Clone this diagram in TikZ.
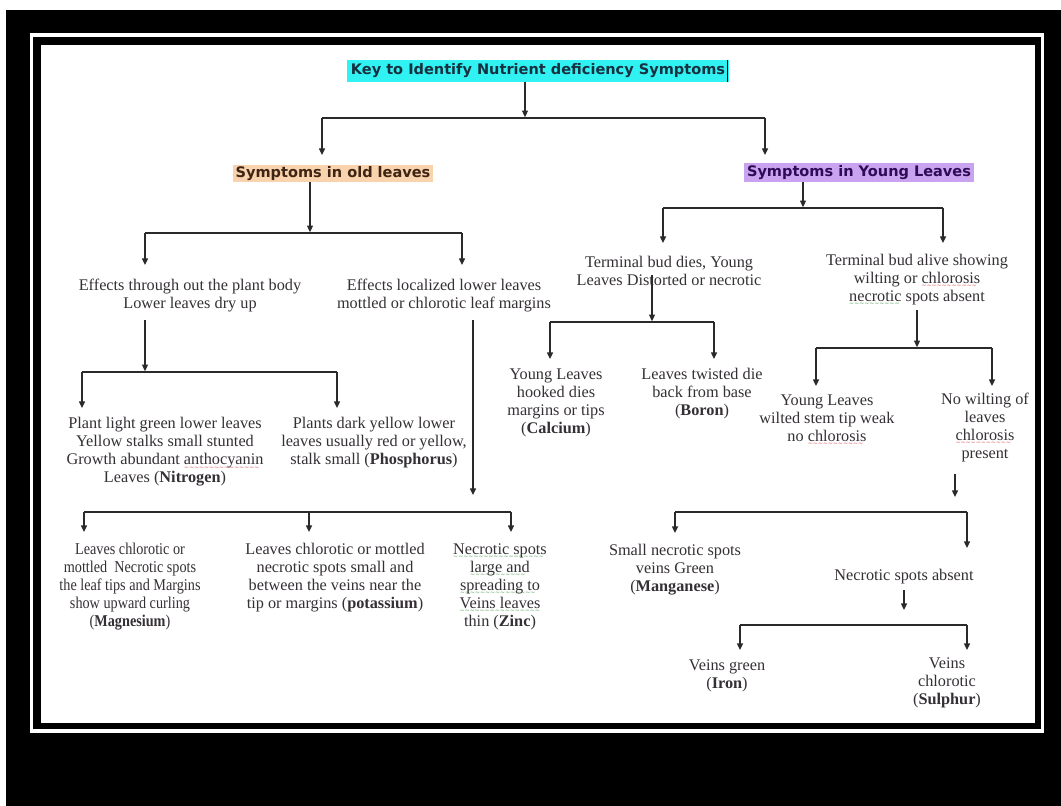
\documentclass[tikz,border=0pt]{standalone}
\usepackage{fontspec}
\setmainfont{Liberation Serif}
\newfontfamily\hdrfont{DejaVu Sans}
\newfontfamily\condfont{Liberation Serif}[FakeStretch=0.86]
\usetikzlibrary{arrows.meta}
\definecolor{txt}{HTML}{353035}
\definecolor{linec}{HTML}{2A2A2A}
\definecolor{cyanhl}{HTML}{30F2F2}
\definecolor{peach}{HTML}{F9D2AE}
\definecolor{lav}{HTML}{C9A2F0}
\definecolor{titlec}{HTML}{173040}
\definecolor{brownc}{HTML}{3E2412}
\definecolor{purplec}{HTML}{2E0C55}
\definecolor{wavered}{HTML}{D85050}
\definecolor{wavegreen}{HTML}{50A050}
\newcommand\wavy[2]{\setbox0\hbox{#2}\rlap{\raisebox{-3.2pt}[0pt][0pt]{\textcolor{#1}{\hbox to \wd0{\leaders\hbox{\fontsize{4.5}{5}\hdrfont\char"223C}\hfill}}}}\box0\relax}
\newcommand\redwave[1]{\wavy{wavered}{#1}}
\newcommand\greenwave[1]{\wavy{wavegreen}{#1}}
\tikzset{
  ln/.style={draw=linec, line width=1pt},
  arr/.style={ln, -{Triangle[length=5pt,width=4.5pt]}},
  body/.style={align=center, text=txt, font=\fontsize{12.2}{13.5}\selectfont, inner sep=0pt},
  hl/.style={font=\hdrfont\bfseries\fontsize{10.9}{13}\selectfont, inner xsep=2pt, inner ysep=0pt, text height=8.3pt, text depth=2.4pt}
}
\begin{document}
\begin{tikzpicture}[x=0.75pt, y=-0.75pt]
\useasboundingbox (0,0) rectangle (1061,806);
% frame
\fill[white] (0,0) rectangle (1061,806);
\fill[black] (6,10) rectangle (1061,806);
\draw[white, line width=2.6pt] (31.5,35) rectangle (1042.5,731);
\fill[white] (41,45) rectangle (1035,723);

% header nodes
\node[hl, fill=cyanhl, text=titlec, minimum height=16.5pt, inner xsep=3pt] (T) at (538,71) {Key to Identify Nutrient deficiency Symptoms};
\draw[black, line width=0.8pt] ([xshift=-1.2pt]T.north east) -- ([xshift=-1.2pt]T.south east);
\node[hl, fill=peach, text=brownc, minimum height=12.75pt] (O) at (333,173.5) {Symptoms in old leaves};
\node[hl, fill=lav, text=purplec, minimum height=14.25pt] (Y) at (859,172.5) {Symptoms in Young Leaves};

% body nodes
\node[body] (E1) at (190,296) {Effects through out the plant body\\Lower leaves dry up};
\node[body] (E2) at (444,296) {Effects localized lower leaves\\mottled or chlorotic leaf margins};
\node[body] (B1) at (669,270.5) {Terminal bud dies, Young\\Leaves Distorted or necrotic};
\node[body] (B2) at (917,279.5) {Terminal bud alive showing\\wilting or \redwave{chlorosis}\\\greenwave{necrotic} spots absent};
\node[body] (N) at (165,452) {Plant light green lower leaves\\Yellow stalks small stunted\\Growth abundant \redwave{anthocyanin}\\Leaves (\textbf{Nitrogen})};
\node[body] (P) at (374,443) {Plants dark yellow lower\\leaves usually red or yellow,\\stalk small (\textbf{Phosphorus})};
\node[body] (Ca) at (556,402.5) {Young Leaves\\hooked dies\\margins or tips\\(\textbf{Calcium})};
\node[body] (Bo) at (702,393.5) {Leaves twisted die\\back from base\\(\textbf{Boron})};
\node[body] (W) at (827,418) {Young Leaves\\wilted stem tip weak\\no \redwave{chlorosis}};
\node[body] (NW) at (985,427.5) {No wilting of\\leaves\\\redwave{chlorosis}\\present};
\node[body, font=\condfont\fontsize{12.4}{13.5}\selectfont] (Mg) at (130,587) {Leaves chlorotic or\\mottled~ Necrotic spots\\the leaf tips and Margins\\show upward curling\\(\textbf{Magnesium})};
\node[body] (K) at (335,578) {Leaves chlorotic or mottled\\necrotic spots small and\\between the veins near the\\tip or margins (\textbf{potassium})};
\node[body] (Zn) at (500,587) {\greenwave{Necrotic spots}\\\greenwave{large and}\\\greenwave{spreading to}\\\greenwave{Veins leaves}\\thin (\textbf{Zinc})};
\node[body] (Mn) at (675,570) {Small necrotic spots\\veins Green\\(\textbf{Manganese})};
\node[body] (NSA) at (904,577) {Necrotic spots absent};
\node[body] (Fe) at (727,676) {Veins green\\(\textbf{Iron})};
\node[body] (S) at (947,683) {Veins\\chlorotic\\(\textbf{Sulphur})};

% junction coordinates
\coordinate (j0) at (525,118);
\coordinate (j0l) at (322,118);
\coordinate (j0r) at (765,118);
\coordinate (tO) at (322,155);
\coordinate (tY) at (765,155);
\coordinate (j1) at (310,233);
\coordinate (j1l) at (145,233);
\coordinate (j1r) at (462,233);
\coordinate (tE1) at (145,265);
\coordinate (tE2) at (462,265);
\coordinate (j2) at (803,208);
\coordinate (j2l) at (663,208);
\coordinate (j2r) at (943,208);
\coordinate (tB1) at (663,243);
\coordinate (tB2) at (943,243);
\coordinate (s3) at (145,320);
\coordinate (j3) at (145,372);
\coordinate (j3l) at (82,372);
\coordinate (j3r) at (337,372);
\coordinate (tN) at (82,408);
\coordinate (tP) at (337,408);
\coordinate (s4) at (473,320);
\coordinate (j4) at (473,512);
\coordinate (j4l) at (84,512);
\coordinate (j4m) at (309,512);
\coordinate (j4r) at (511,512);
\coordinate (tMg) at (84,532);
\coordinate (tK) at (309,532);
\coordinate (tZn) at (511,532);
\coordinate (s5) at (652,275);
\coordinate (j5) at (652,322);
\coordinate (j5l) at (550,322);
\coordinate (j5r) at (714,322);
\coordinate (tCa) at (550,359);
\coordinate (tBo) at (714,359);
\coordinate (s6) at (917,310);
\coordinate (j6) at (917,348);
\coordinate (j6l) at (816,348);
\coordinate (j6r) at (992,348);
\coordinate (tW) at (816,386);
\coordinate (tNW) at (992,386);
\coordinate (s7) at (955,474);
\coordinate (j7) at (955,512);
\coordinate (j7l) at (675,512);
\coordinate (j7r) at (967,512);
\coordinate (tMn) at (675,533);
\coordinate (tNSA) at (967,548);
\coordinate (s8) at (904,590);
\coordinate (j8) at (904,625);
\coordinate (j8l) at (740,625);
\coordinate (j8r) at (967,625);
\coordinate (tFe) at (740,650);
\coordinate (tS) at (967,650);

% connectors
\draw[arr] (T.south -| j0) -- ([yshift=0.6pt]j0);
\draw[ln] (j0l) -- (j0r);
\draw[arr] (j0l) -- (tO);
\draw[arr] (j0r) -- (tY);

\draw[arr] (O.south -| j1) -- ([yshift=0.6pt]j1);
\draw[ln] (j1l) -- (j1r);
\draw[arr] (j1l) -- (tE1);
\draw[arr] (j1r) -- (tE2);

\draw[arr] (Y.south -| j2) -- ([yshift=0.6pt]j2);
\draw[ln] (j2l) -- (j2r);
\draw[arr] (j2l) -- (tB1);
\draw[arr] (j2r) -- (tB2);

\draw[arr] (s3) -- ([yshift=0.6pt]j3);
\draw[ln] (j3l) -- (j3r);
\draw[arr] (j3l) -- (tN);
\draw[arr] (j3r) -- (tP);

\draw[arr] (s4) -- ([yshift=12.75pt]j4);
\draw[ln] (j4l) -- (j4r);
\draw[arr] (j4l) -- (tMg);
\draw[arr] (j4m) -- (tK);
\draw[arr] (j4r) -- (tZn);

\draw[arr] (s5) -- ([yshift=0.6pt]j5);
\draw[ln] (j5l) -- (j5r);
\draw[arr] (j5l) -- (tCa);
\draw[arr] (j5r) -- (tBo);

\draw[arr] (s6) -- ([yshift=0.6pt]j6);
\draw[ln] (j6l) -- (j6r);
\draw[arr] (j6l) -- (tW);
\draw[arr] (j6r) -- (tNW);

\draw[arr] (s7) -- ([yshift=11.25pt]j7);
\draw[ln] (j7l) -- (j7r);
\draw[arr] (j7l) -- (tMn);
\draw[arr] (j7r) -- (tNSA);

\draw[arr] (s8) -- ([yshift=11.25pt]j8);
\draw[ln] (j8l) -- (j8r);
\draw[arr] (j8l) -- (tFe);
\draw[arr] (j8r) -- (tS);
\end{tikzpicture}
\end{document}
